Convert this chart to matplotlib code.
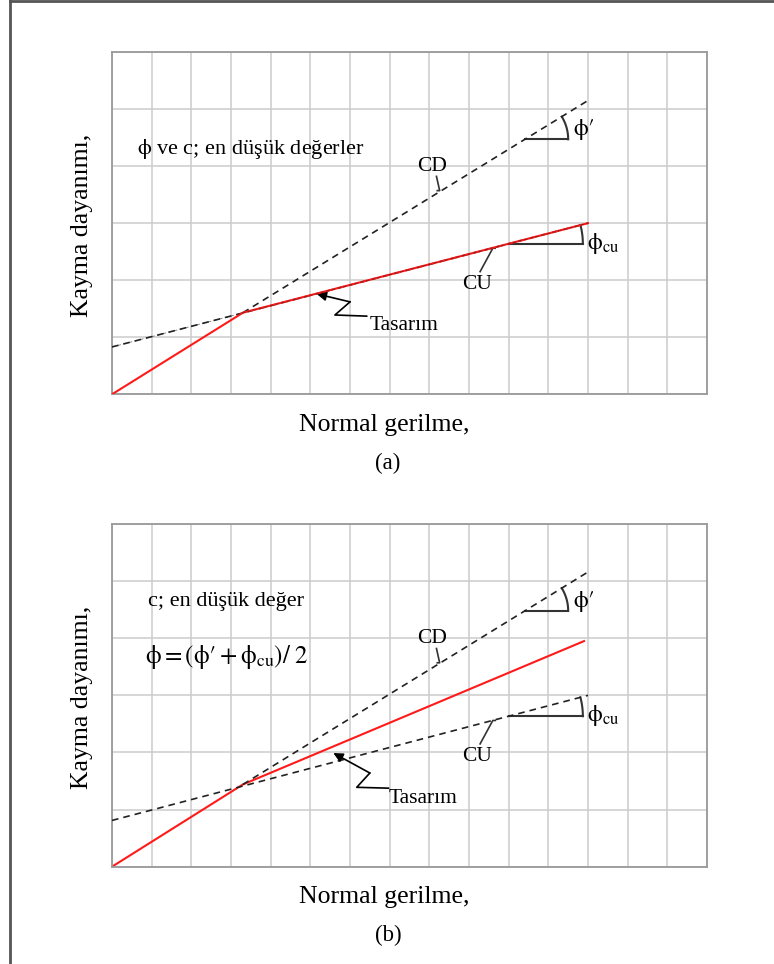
import numpy as np
import matplotlib.pyplot as plt
from matplotlib.lines import Line2D

plt.rcParams["font.family"] = ["Liberation Serif", "DejaVu Serif"]
plt.rcParams["mathtext.fontset"] = "stix"

# grid of 15 x 6 cells, no numbers on the axes
n_cols = 15
n_rows = 6

# panel (a): design line follows CU above the kink
a_design_x = [0.0, 3.3, 12.0]
a_design_y = [0.0, 1.43, 3.0]
a_cu_x = [0.0, 12.0]
a_cu_y = [0.83, 3.0]
a_cd_x = [3.3, 12.0]
a_cd_y = [1.43, 5.15]

# panel (b): design line is the mean slope
b_design_x = [0.0, 3.3, 11.9]
b_design_y = [0.0, 1.44, 3.95]
b_cu_x = [0.0, 12.0]
b_cu_y = [0.81, 3.0]
b_cd_x = [3.3, 12.0]
b_cd_y = [1.44, 5.16]

W, H = 774, 964
fig = plt.figure(figsize=(W / 100, H / 100), dpi=100)

# outer frame (only left and top edges visible)
fig.add_artist(Line2D([10 / W, 10 / W], [0, 1], color="#555555", lw=2))
fig.add_artist(Line2D([10 / W, 1], [1 - 1 / H, 1 - 1 / H], color="#555555", lw=2))

PHI = r"\mathrm{\phi}"
PHI_P = r"\mathrm{\phi}\prime"
PHI_CU = r"\mathrm{\phi}_{\mathrm{cu}}"
FS_NOTE = 15.5


def angle_mark(ax, xs, ys, x0, length):
    # horizontal leg starting on the line plus an arc back up to the line
    slope = (ys[-1] - ys[0]) / (xs[-1] - xs[0])
    y0 = ys[0] + slope * (x0 - xs[0])
    sx = ax.bbox.width / n_cols
    sy = ax.bbox.height / n_rows
    rx = length
    ry = length * sx / sy
    t_end = np.arctan(slope * rx / ry)
    t = np.linspace(0, t_end, 30)
    ax.plot([x0, x0 + length], [y0, y0], color="#333333", lw=1.5)
    ax.plot(x0 + rx * np.cos(t), y0 + ry * np.sin(t), color="#333333", lw=1.5)


def setup(ax):
    ax.set_xlim(0, n_cols)
    ax.set_ylim(0, n_rows)
    ax.set_xticks(np.arange(n_cols + 1))
    ax.set_yticks(np.arange(n_rows + 1))
    ax.tick_params(length=0, labelbottom=False, labelleft=False)
    ax.grid(True, color="#cccccc", lw=1.1)
    ax.set_axisbelow(True)
    for s in ax.spines.values():
        s.set_color("#999999")
        s.set_linewidth(1.3)


def draw_panel(ax, design_x, design_y, cu_x, cu_y, cd_x, cd_y, red_over_cu):
    setup(ax)
    dash = dict(color="#222222", lw=1.2, ls=(0, (4, 3)))
    ax.plot(cu_x, cu_y, **dash, zorder=3)
    ax.plot(cd_x, cd_y, **dash, zorder=3)
    ax.plot(design_x, design_y, color="#ff1a1a", lw=1.5,
            zorder=4 if red_over_cu else 2)
    if red_over_cu:
        ax.plot(cu_x, cu_y, color="#222222", lw=0.6, ls=(0, (4, 3)),
                alpha=0.6, zorder=5)

    angle_mark(ax, cd_x, cd_y, 10.41, 1.09)
    angle_mark(ax, cu_x, cu_y, 10.0, 1.87)
    ax.text(11.62, 4.64, rf"${PHI_P}$", fontsize=17, ha="left", va="center")
    ax.text(11.98, 2.64, rf"${PHI_CU}$", fontsize=17, ha="left", va="center")

    # CD and CU leaders
    ax.text(8.07, 4.0, "CD", fontsize=FS_NOTE, ha="center", va="center")
    ax.plot([8.18, 8.26, 8.2], [3.82, 3.57, 3.57], color="#333333", lw=1.2)
    ax.text(9.2, 1.93, "CU", fontsize=FS_NOTE, ha="center", va="center")
    ax.plot([9.28, 9.6, 9.66], [2.15, 2.56, 2.56], color="#333333", lw=1.2)


ax_a = fig.add_axes([112 / W, 1 - 394.3 / H, 595 / W, 342.3 / H])
ax_b = fig.add_axes([112 / W, 1 - 866.7 / H, 595 / W, 342.7 / H])

draw_panel(ax_a, a_design_x, a_design_y, a_cu_x, a_cu_y, a_cd_x, a_cd_y, True)
draw_panel(ax_b, b_design_x, b_design_y, b_cu_x, b_cu_y, b_cd_x, b_cd_y, False)

# Tasarim arrows
ax_a.plot([6.42, 5.62, 6.0], [1.37, 1.39, 1.62], color="k", lw=1.2)
ax_a.annotate("", xy=(5.16, 1.76), xytext=(6.0, 1.62),
              arrowprops=dict(arrowstyle="-|>", color="k", lw=1.2,
                              mutation_scale=14, shrinkA=0, shrinkB=0))
ax_a.text(6.5, 1.21, "Tasarım", fontsize=FS_NOTE, ha="left", va="center")

ax_b.plot([6.97, 6.17, 6.5], [1.375, 1.39, 1.64], color="k", lw=1.2)
ax_b.annotate("", xy=(5.58, 1.99), xytext=(6.5, 1.64),
              arrowprops=dict(arrowstyle="-|>", color="k", lw=1.2,
                              mutation_scale=14, shrinkA=0, shrinkB=0))
ax_b.text(6.98, 1.2, "Tasarım", fontsize=FS_NOTE, ha="left", va="center")

# notes inside the panels
ax_a.text(0.63, 4.3, rf"${PHI}$ ve c; en düşük değerler", fontsize=16,
          ha="left", va="center")
ax_b.text(0.91, 4.65, "c; en düşük değer", fontsize=16, ha="left", va="center")
ax_b.text(0.83, 3.68,
          rf"${PHI} = ({PHI_P} + {PHI_CU})/\;2$",
          fontsize=18, ha="left", va="center")

# axis labels and panel captions
for off, tag in [(0, "(a)"), (472.4, "(b)")]:
    fig.text(82 / W, 1 - (225 + off) / H, "Kayma dayanımı,", fontsize=18.5,
             rotation=90, ha="center", va="center")
    fig.text(384 / W, 1 - (425 + off) / H, "Normal gerilme,", fontsize=18.5,
             ha="center", va="center")
    fig.text(388 / W, 1 - (463 + off) / H, tag, fontsize=16.5,
             ha="center", va="center")

fig.savefig("out.png", dpi=100)
